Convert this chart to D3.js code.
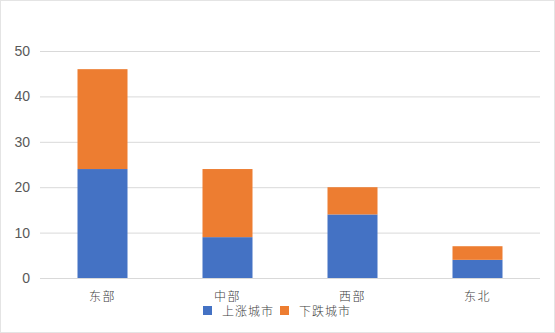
<!DOCTYPE html>
<html>
<head>
<meta charset="utf-8">
<script src="https://cdn.jsdelivr.net/npm/d3@7"></script>
<style>
  body { margin: 0; background: #fff; }
  svg { display: block; }
</style>
</head>
<body>
<div id="chart-area"></div>
<script>
// Data
var regions = ["东部", "中部", "西部", "东北"];
var rising = [24, 9, 14, 4];     // 上涨城市
var falling = [22, 15, 6, 3];    // 下跌城市
var seriesNames = ["上涨城市", "下跌城市"];
var yTicks = [0, 10, 20, 30, 40, 50];

var colors = ["#4472c4", "#ed7d31"];

var W = 555, H = 333;
var margin = { left: 40, right: 15, top: 51, bottom: 55 };
var width = W - margin.left - margin.right,
    height = H - margin.top - margin.bottom;

var svg = d3.select("#chart-area").append("svg")
    .attr("width", W)
    .attr("height", H);

// faint frame round the picture
svg.append("rect")
    .attr("x", 0.5).attr("y", 0.5)
    .attr("width", W - 1).attr("height", H - 1)
    .attr("fill", "none")
    .attr("stroke", "#e4e4e4");

var g = svg.append("g")
    .attr("transform", "translate(" + margin.left + "," + margin.top + ")");

var x = d3.scaleBand().domain(regions).range([0, width]).paddingInner(0.6).paddingOuter(0.3);
var y = d3.scaleLinear().domain([0, 50]).range([height, 0]);

// Gridlines
g.selectAll(".grid")
    .data(yTicks)
    .enter().append("line")
    .attr("x1", 0).attr("x2", width)
    .attr("y1", function (d) { return y(d) + 0.5; })
    .attr("y2", function (d) { return y(d) + 0.5; })
    .attr("stroke", "#d9d9d9")
    .attr("stroke-width", 1);

// Y axis labels
var yAxis = g.append("g")
    .call(d3.axisLeft(y).tickValues(yTicks).tickSize(0).tickPadding(10));
yAxis.select(".domain").remove();
yAxis.selectAll("text")
    .attr("font-family", "'Liberation Sans', Arial, sans-serif")
    .attr("font-size", "14px")
    .attr("fill", "#595959");

// Stack the two series
var rows = regions.map(function (r, i) {
    return { region: r, rising: rising[i], falling: falling[i] };
});
var stack = d3.stack().keys(["rising", "falling"]);
var layers = stack(rows);

g.selectAll(".layer")
    .data(layers)
    .enter().append("g")
    .attr("fill", function (d, i) { return colors[i]; })
    .selectAll("rect")
    .data(function (d) { return d; })
    .enter().append("rect")
    .attr("x", function (d) { return x(d.data.region); })
    .attr("width", x.bandwidth())
    .attr("y", function (d) { return y(d[1]); })
    .attr("height", function (d) { return y(d[0]) - y(d[1]); });

// X axis labels
var xAxis = g.append("g")
    .attr("transform", "translate(0," + height + ")")
    .call(d3.axisBottom(x).tickSize(0).tickPadding(0));
xAxis.select(".domain").remove();
xAxis.selectAll("text")
    .attr("dy", null)
    .attr("y", 17)
    .attr("dominant-baseline", "central")
    .attr("font-family", "'Noto Sans CJK SC', sans-serif")
    .attr("font-weight", 300)
    .attr("font-size", "12px")
    .attr("letter-spacing", "1.5px")
    .attr("fill", "#404040");

// Legend
var legend = svg.append("g")
    .attr("transform", "translate(203,310.5)");
var legendX = [0, 77];
seriesNames.forEach(function (name, i) {
    var item = legend.append("g").attr("transform", "translate(" + legendX[i] + ",0)");
    item.append("rect")
        .attr("x", 0).attr("y", -4.5)
        .attr("width", 9).attr("height", 9)
        .attr("fill", colors[i]);
    item.append("text")
        .attr("x", 19).attr("y", 0)
        .attr("dominant-baseline", "central")
        .attr("font-family", "'Noto Sans CJK SC', sans-serif")
        .attr("font-weight", 300)
        .attr("font-size", "12px")
        .attr("letter-spacing", "1px")
        .attr("fill", "#404040")
        .text(name);
});
</script>
</body>
</html>
